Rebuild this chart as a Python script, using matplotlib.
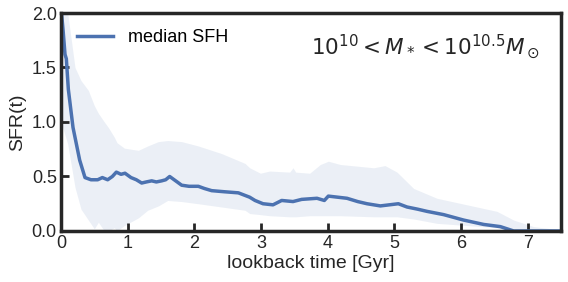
import numpy as np
import matplotlib.pyplot as plt

plt.rcParams['font.family'] = ['Liberation Sans', 'DejaVu Sans']
plt.rcParams['mathtext.fontset'] = 'dejavusans'

# median SFH (lookback time in Gyr, SFR)
t_med = [0.0, 0.03, 0.06, 0.08, 0.11, 0.18, 0.28, 0.36, 0.45, 0.55, 0.62, 0.7, 0.77, 0.83, 0.9,
         0.96, 1.05, 1.13, 1.21, 1.28, 1.36, 1.43, 1.51, 1.57, 1.63, 1.72, 1.81, 1.92,
         2.06, 2.15, 2.26, 2.45, 2.66, 2.83, 2.91, 3.03, 3.18, 3.31, 3.48, 3.61, 3.84,
         3.95, 4.01, 4.15, 4.29, 4.45, 4.59, 4.79, 5.06, 5.19, 5.35, 5.49, 5.74, 6.04,
         6.34, 6.59, 6.79, 7.0, 7.5]
sfr_med = [2.05, 1.85, 1.62, 1.58, 1.3, 0.95, 0.65, 0.49, 0.47, 0.47, 0.49, 0.47, 0.5, 0.54, 0.52,
           0.53, 0.49, 0.47, 0.44, 0.45, 0.46, 0.45, 0.46, 0.47, 0.5, 0.46, 0.42, 0.41,
           0.41, 0.39, 0.37, 0.36, 0.35, 0.31, 0.28, 0.25, 0.24, 0.28, 0.27, 0.29, 0.30,
           0.28, 0.32, 0.31, 0.30, 0.27, 0.25, 0.23, 0.25, 0.22, 0.20, 0.18, 0.15, 0.10,
           0.06, 0.04, 0.0, 0.0, 0.0]

# 16-84 percentile band
t_band = [0.0, 0.1, 0.21, 0.3, 0.41, 0.5, 0.56, 0.65, 0.71, 0.8, 0.84, 0.95, 1.16, 1.3, 1.46,
          1.6, 1.81, 2.06, 2.41, 2.76, 2.83, 2.99, 3.13, 3.43, 3.48, 3.52, 3.73, 3.89,
          4.01, 4.19, 4.69, 4.86, 5.04, 5.29, 5.64, 6.09, 6.54, 6.79, 7.09, 7.5]
sfr_hi = [2.3, 2.0, 1.5, 1.38, 1.29, 1.15, 1.08, 1.0, 0.95, 0.86, 0.81, 0.76, 0.74, 0.78, 0.82,
          0.83, 0.82, 0.78, 0.71, 0.62, 0.58, 0.53, 0.55, 0.54, 0.58, 0.54, 0.53, 0.61,
          0.64, 0.61, 0.58, 0.60, 0.54, 0.39, 0.30, 0.24, 0.18, 0.10, 0.04, 0.01]
sfr_lo = [1.0, 0.8, 0.4, 0.2, 0.1, 0.02, 0.08, 0.0, 0.0, 0.03, 0.0, 0.05, 0.12, 0.19, 0.23,
          0.28, 0.27, 0.25, 0.22, 0.19, 0.16, 0.15, 0.14, 0.13, 0.13, 0.13, 0.14, 0.14,
          0.14, 0.14, 0.13, 0.13, 0.13, 0.11, 0.07, 0.05, 0.03, 0.0, 0.0, 0.0]

fig = plt.figure(figsize=(5.68, 2.82), dpi=100)
ax = fig.add_axes([0.1074, 0.1809, 0.8803, 0.773])

ax.fill_between(t_band, sfr_lo, sfr_hi, color='#4c72b0', alpha=0.11, lw=0)
ax.plot(t_med, sfr_med, color='#4c72b0', lw=2.5, label='median SFH')

ax.set_xlim(0, 7.5)
ax.set_ylim(0, 2)
ax.set_xticks([0, 1, 2, 3, 4, 5, 6, 7])
ax.set_yticks([0, 0.5, 1.0, 1.5, 2.0])
ax.set_yticklabels(['0.0', '0.5', '1.0', '1.5', '2.0'])
ax.set_xlabel('lookback time [Gyr]', fontsize=14, color='#262626', labelpad=2)
ax.set_ylabel('SFR(t)', fontsize=14, color='#262626', labelpad=4)
ax.tick_params(direction='in', length=6, width=2, labelsize=13, colors='#262626', pad=3)
for s in ax.spines.values():
    s.set_linewidth(2.5)
    s.set_color('#262626')

ax.legend(loc='upper left', frameon=False, fontsize=13, handlelength=2.0)
ax.text(0.958, 0.844, r'$10^{10} < M_* < 10^{10.5} M_\odot$', transform=ax.transAxes,
        ha='right', va='center', fontsize=15.5, color='#262626')

fig.savefig('out.png', dpi=100)
